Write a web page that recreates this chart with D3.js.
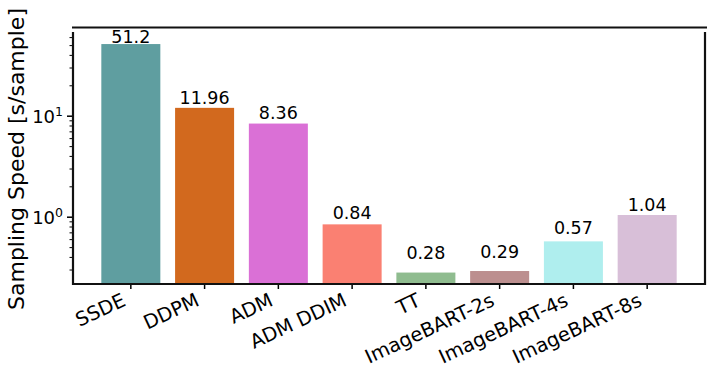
<!DOCTYPE html>
<html>
<head>
<meta charset="utf-8">
<script src="https://cdn.jsdelivr.net/npm/d3@7"></script>
<style>
  body { margin: 0; background: #fff; }
  svg { display: block; font-family: "DejaVu Sans", sans-serif; }
</style>
</head>
<body>
<div id="chart"></div>
<script>
// ── data ──
const methods = ["SSDE", "DDPM", "ADM", "ADM DDIM", "TT", "ImageBART-2s", "ImageBART-4s", "ImageBART-8s"];
const speeds = [51.2, 11.96, 8.36, 0.84, 0.28, 0.29, 0.57, 1.04];
const barColors = ["#5F9EA0", "#D2691E", "#DA70D6", "#FA8072", "#8FBC8F", "#BC8F8F", "#AFEEEE", "#D8BFD8"];
const majorTicks = [1, 10];
const yLabel = "Sampling Speed [s/sample]";

const FONT = '"DejaVu Sans", sans-serif';
const W = 712, H = 376,
  M = { t: 32, r: 7, b: 92, l: 73 },
  w = W - M.l - M.r,
  h = H - M.t - M.b;

const svg = d3.select("#chart").append("svg").attr("width", W).attr("height", H);
const g = svg.append("g").attr("transform", `translate(${M.l},${M.t})`);

const x = d3.scaleBand().domain(methods).range([0, w]).paddingInner(0.2).paddingOuter(0.384);
const y = d3.scaleLog().domain([0.2157, 67.4]).range([h, 0]);

// bars
g.selectAll(".bar")
  .data(methods)
  .enter()
  .append("rect")
  .attr("class", "bar")
  .attr("x", (d) => x(d))
  .attr("width", x.bandwidth())
  .attr("y", (d, i) => y(speeds[i]))
  .attr("height", (d, i) => h - y(speeds[i]))
  .attr("fill", (d, i) => barColors[i]);

// value labels (data-space offset above bar)
g.selectAll(".val")
  .data(methods)
  .enter()
  .append("text")
  .attr("class", "val")
  .attr("x", (d) => x(d) + x.bandwidth() / 2)
  .attr("y", (d, i) => y(speeds[i] + (speeds[i] > 5 ? 1 : 0.1)))
  .attr("text-anchor", "middle")
  .attr("font-family", FONT)
  .attr("font-size", "17.5px")
  .attr("fill", "#000")
  .text((d, i) => String(speeds[i]));

// y axis: minor ticks
const [lo, hi] = y.domain();
const minor = y.ticks().filter((v) => !majorTicks.includes(v) && v >= lo && v <= hi);
const yMinor = g.append("g").call(d3.axisLeft(y).tickValues(minor).tickSize(3.5).tickFormat(""));
yMinor.select(".domain").remove();
yMinor.selectAll("line").attr("stroke", "#000").attr("stroke-width", 1);

// y axis: major ticks
const yMajor = g.append("g").call(d3.axisLeft(y).tickValues(majorTicks).tickSize(6).tickPadding(4).tickFormat(""));
yMajor.attr("font-family", FONT);
yMajor.select(".domain").remove();
yMajor.selectAll("line").attr("stroke", "#000").attr("stroke-width", 1.5);
yMajor.selectAll(".tick text")
  .attr("font-size", "18px")
  .attr("fill", "#000")
  .attr("dy", "0.35em")
  .each(function (d) {
    const t = d3.select(this);
    t.append("tspan").text("10");
    t.append("tspan")
      .attr("dy", "-0.55em")
      .attr("font-size", "12.5px")
      .text(String(Math.round(Math.log10(d))));
  });

// x axis
const xAxis = g.append("g")
  .attr("transform", `translate(0,${h})`)
  .call(d3.axisBottom(x).tickSize(5).tickFormat(""));
xAxis.attr("font-family", FONT);
xAxis.select(".domain").remove();
xAxis.selectAll("line").attr("stroke", "#000").attr("stroke-width", 1.5);
xAxis.selectAll(".tick")
  .append("text")
  .attr("font-size", "19.5px")
  .attr("fill", "#000")
  .attr("text-anchor", "end")
  .attr("transform", "translate(-4,21) rotate(-25)")
  .text((d) => d);

// frame
const frame = svg.append("g").attr("stroke", "#111").attr("fill", "none");
frame.append("line").attr("x1", M.l - 1).attr("x2", W - 5).attr("y1", 27.5).attr("y2", 27.5).attr("stroke-width", 2);
frame.append("line").attr("x1", M.l).attr("x2", M.l).attr("y1", M.t).attr("y2", M.t + h + 1).attr("stroke-width", 2.2);
frame.append("line").attr("x1", M.l + w).attr("x2", M.l + w).attr("y1", M.t).attr("y2", M.t + h + 1).attr("stroke-width", 2.2);
frame.append("line").attr("x1", M.l - 1).attr("x2", M.l + w + 1).attr("y1", M.t + h).attr("y2", M.t + h).attr("stroke-width", 2.2);

// y label
svg.append("text")
  .attr("transform", `translate(24,${M.t + h / 2 + 1}) rotate(-90)`)
  .attr("text-anchor", "middle")
  .attr("font-family", FONT)
  .attr("font-size", "22px")
  .attr("fill", "#000")
  .text(yLabel);
</script>
</body>
</html>
